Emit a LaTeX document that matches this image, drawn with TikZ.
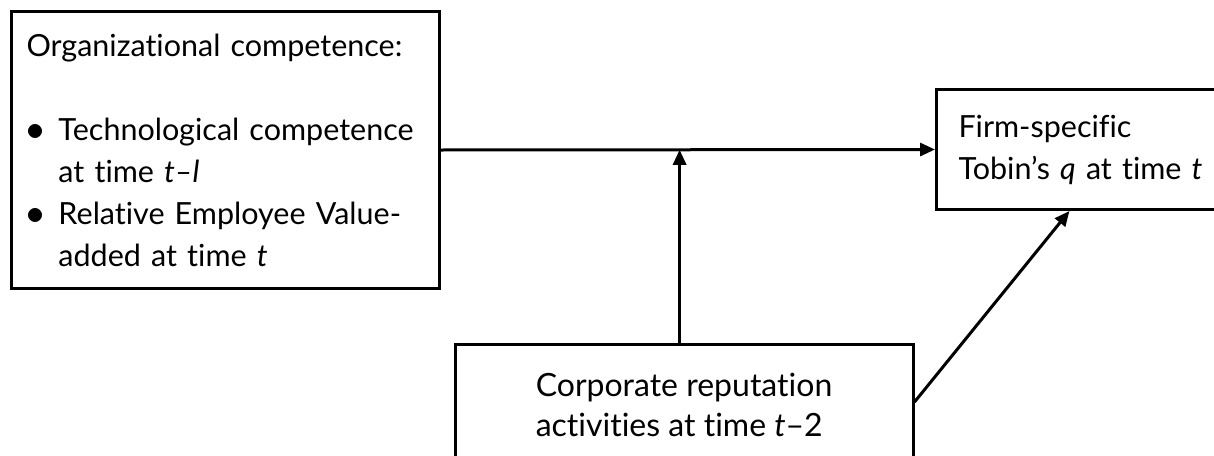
\documentclass[tikz,border=0pt]{standalone}
\usepackage{fontspec}
\setmainfont{Lato}[Ligatures=NoCommon]
\usetikzlibrary{arrows.meta,calc}
\newcommand{\blt}{\makebox[32pt][l]{\scalebox{1.45}{$\bullet$}}}
\tikzset{
  box/.style={draw, rectangle, line width=3pt, align=left,
    font=\fontsize{30.5}{42}\selectfont},
  arr/.style={line width=3pt, -{Triangle[length=15pt,width=13pt]}}
}
\begin{document}
\begin{tikzpicture}[x=1pt,y=-1pt]
  \useasboundingbox (0,0) rectangle (1214,455);
  \clip (0,0) rectangle (1214,455);

  % Define nodes
  \node[box, anchor=north west, text width=398pt, inner xsep=15pt,
        minimum height=277pt] (C) at (10,10)
    {Organizational competence:\\[42pt]
     \blt Technological competence\\
     \hspace*{32pt}at time \textit{t–l}\\
     \blt Relative Employee Value-\\
     \hspace*{32pt}added at time \textit{t}};
  \node[box, anchor=north west, text width=262pt, inner xsep=22pt,
        minimum height=120pt] (Q) at (935,88)
    {Firm-specific\\Tobin’s \textit{q} at time \textit{t}};
  \node[box, font=\fontsize{32}{40}\selectfont,
        minimum width=458pt, minimum height=122pt] (R) at (684,405)
    {Corporate reputation\\activities at time \textit{t}–2};

  % Connect the nodes
  \coordinate (J) at ($(C.east)!0.483!(Q.west)$);
  \draw[arr] (C.east) -- (Q.west);
  \draw[arr] (R.north -| J) -- (J);
  \draw[arr] ([yshift=3pt]R.east) -- ($(Q.south west)!0.435!(Q.south east)$);
\end{tikzpicture}
\end{document}
